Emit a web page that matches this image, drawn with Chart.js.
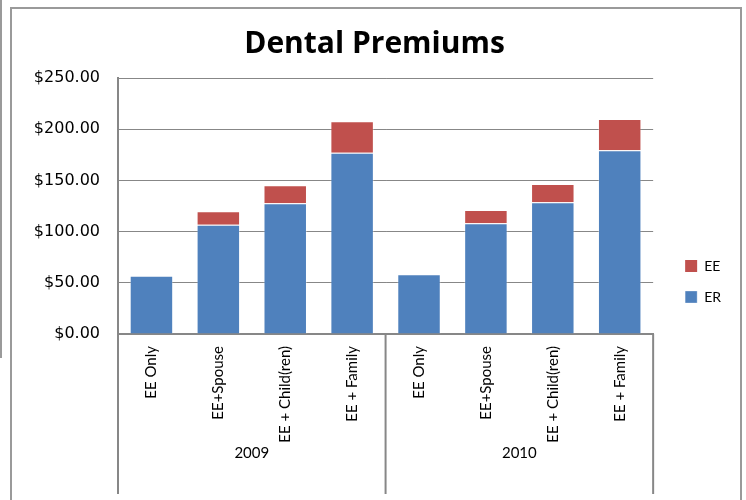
<!DOCTYPE html>
<html>
<head>
<meta charset="utf-8">
<title>Dental Premiums</title>
<script src="https://cdn.jsdelivr.net/npm/chart.js@4.4.1/dist/chart.umd.min.js"></script>
<style>
  html, body { margin: 0; padding: 0; background: #fff; }
  #wrap { position: relative; width: 746px; height: 500px; overflow: hidden; }
  #frame { position: absolute; left: 10px; top: 7px; width: 728px; height: 520px; border: 2px solid #9a9a9a; border-bottom: none; pointer-events: none; }
  #edge { position: absolute; left: 0; top: 0; width: 2px; height: 358px; background: #9a9a9a; pointer-events: none; }
</style>
</head>
<body>
<div id="wrap">
  <canvas id="premiumChart"></canvas>
  <div id="frame"></div>
  <div id="edge"></div>
</div>
<script>
const years = ['2009', '2010'];
const plans = ['EE Only', 'EE+Spouse', 'EE + Child(ren)', 'EE + Family'];
const categories = [...plans, ...plans];
const erPremium = [57.0, 106.7, 127.6, 177.1, 58.3, 108.1, 128.6, 179.4];
const eePremium = [0, 13.1, 17.6, 30.6, 0, 13.0, 17.9, 30.6];
const yTicks = [0, 50, 100, 150, 200, 250];

const AXIS_GRAY = '#878787';

// vertical separators between the year groups, running down through both label rows
const groupLines = {
    id: 'groupLines',
    afterDraw(chart) {
        const x = chart.scales.x;
        const x2 = chart.scales.x2;
        const ctx = chart.ctx;
        const edges = [x.left];
        let n = 0;
        years.forEach(() => {
            n += plans.length;
            edges.push(n < categories.length
                ? (x.getPixelForTick(n - 1) + x.getPixelForTick(n)) / 2
                : x.right);
        });
        ctx.save();
        ctx.strokeStyle = AXIS_GRAY;
        ctx.lineWidth = 2;
        edges.forEach(px => {
            ctx.beginPath();
            ctx.moveTo(px, x.top);
            ctx.lineTo(px, x2.bottom);
            ctx.stroke();
        });
        ctx.restore();
    }
};

const labelFont = { family: 'Lato', size: 15 };

new Chart(document.getElementById('premiumChart'), {
    type: 'bar',
    data: {
        labels: categories,
        datasets: [
            {
                label: 'ER',
                data: erPremium,
                backgroundColor: '#4F81BD',
                borderColor: 'rgba(255,255,255,0.3)',
                borderWidth: 1,
                barPercentage: 0.65,
                categoryPercentage: 1
            },
            {
                label: 'EE',
                data: eePremium,
                backgroundColor: '#C0504D',
                borderColor: 'rgba(255,255,255,0.3)',
                borderWidth: ctx => ctx.raw ? 1 : 0,
                barPercentage: 0.65,
                categoryPercentage: 1
            }
        ]
    },
    options: {
        responsive: true,
        maintainAspectRatio: false,
        animation: false,
        devicePixelRatio: 1,
        layout: { padding: { top: 10, left: 18, right: 15, bottom: 6 } },
        plugins: {
            title: {
                display: true,
                text: 'Dental Premiums',
                color: '#000',
                font: { family: 'Open Sans', size: 30, weight: 'bold' },
                padding: { top: 16, bottom: 16 }
            },
            legend: {
                position: 'right',
                reverse: true,
                title: { display: true, text: '', font: { size: 10 }, padding: { top: 47, bottom: 0 } },
                labels: {
                    boxWidth: 12,
                    boxHeight: 12,
                    padding: 17,
                    color: '#000',
                    font: { family: 'Lato', size: 14 }
                }
            },
            tooltip: { enabled: false }
        },
        scales: {
            x: {
                stacked: true,
                grid: { drawOnChartArea: false, drawTicks: false },
                border: { color: AXIS_GRAY, width: 2 },
                ticks: {
                    minRotation: 90,
                    maxRotation: 90,
                    autoSkip: false,
                    padding: 12,
                    color: '#000',
                    font: labelFont
                },
                afterFit(s) { s.height = 110; }
            },
            x2: {
                type: 'category',
                labels: years,
                offset: true,
                position: 'bottom',
                grid: { display: false, drawTicks: false },
                border: { display: false },
                ticks: { padding: 0, color: '#000', font: labelFont },
                afterFit(s) { s.height = 50; }
            },
            y: {
                stacked: true,
                min: yTicks[0],
                max: yTicks[yTicks.length - 1],
                ticks: {
                    stepSize: yTicks[1] - yTicks[0],
                    padding: 18,
                    color: '#000',
                    font: { family: 'DejaVu Sans', size: 16 },
                    callback: v => '$' + v.toFixed(2)
                },
                grid: { color: AXIS_GRAY, lineWidth: 1, drawTicks: false },
                border: { color: AXIS_GRAY, width: 2 },
                afterFit(s) { s.width = 100; }
            },
            gap: {
                type: 'linear',
                position: 'right',
                grid: { display: false, drawTicks: false },
                border: { display: false },
                ticks: { display: false },
                afterFit(s) { s.width = 15; }
            }
        }
    },
    plugins: [groupLines]
});
</script>
</body>
</html>
